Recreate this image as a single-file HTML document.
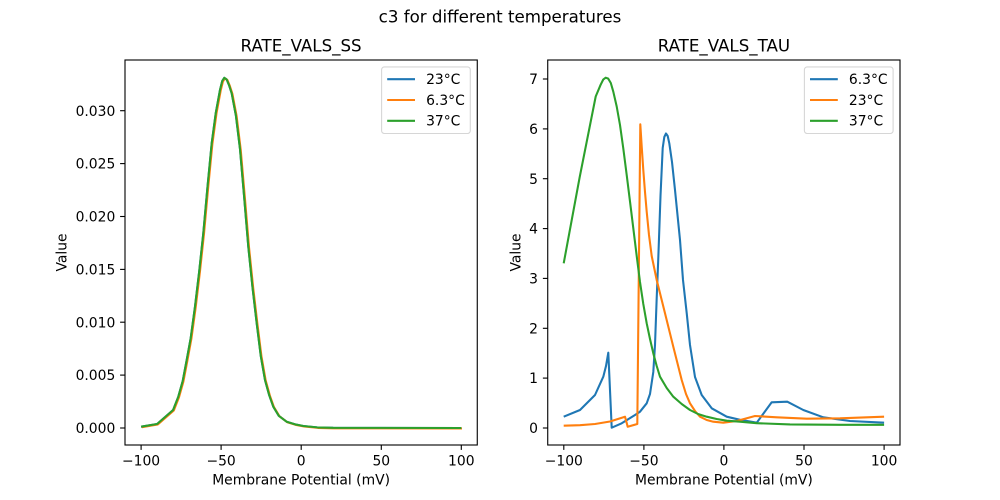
<!DOCTYPE html>
<html>
<head>
<meta charset="utf-8">
<style>
  html, body { margin: 0; padding: 0; background: #ffffff; }
  svg { display: block; }
  text { font-family: "DejaVu Sans", "Liberation Sans", sans-serif; fill: #000; }
</style>
</head>
<body>
<svg width="1000" height="500" viewBox="0 0 1000 500" xmlns="http://www.w3.org/2000/svg">
  <rect x="0" y="0" width="1000" height="500" fill="#ffffff"/>

  <!-- Suptitle -->
  <text x="500" y="22.7" font-size="16.67" text-anchor="middle">c3 for different temperatures</text>

  <!-- ================= LEFT AXES ================= -->
  <text x="301.1" y="51.7" font-size="16.67" text-anchor="middle">RATE_VALS_SS</text>

  <!-- series -->
  <g fill="none" stroke-width="2.08" stroke-linejoin="round" stroke-linecap="butt">
    <polyline stroke="#1f77b4" points="141.1,426.7 157.1,424.0 173.1,410.0 178.3,396.7 182.7,381.1 186.7,360.0 190.7,338.2 195.0,306.7 199.2,271.5 203.3,233.3 207.5,186.8 211.7,143.3 215.8,112.8 220.0,90.0 222.2,81.1 224.3,77.8 226.7,79.5 229.1,85.3 231.7,93.3 235.9,115.5 240.0,149.0 244.2,197.5 248.3,246.7 252.5,287.3 256.7,323.3 260.8,356.1 265.0,380.0 269.2,395.2 273.3,406.7 278.8,415.8 286.6,421.7 294.8,424.3 303.3,426.0 317.2,427.4 333.2,427.8 461.3,428.0"/>
    <polyline stroke="#ff7f0e" transform="translate(0.7,0.5)" points="141.1,426.7 157.1,424.0 173.1,410.0 178.3,396.7 182.7,381.1 186.7,360.0 190.7,338.2 195.0,306.7 199.2,271.5 203.3,233.3 207.5,186.8 211.7,143.3 215.8,112.8 220.0,90.0 222.2,81.1 224.3,77.8 226.7,79.5 229.1,85.3 231.7,93.3 235.9,115.5 240.0,149.0 244.2,197.5 248.3,246.7 252.5,287.3 256.7,323.3 260.8,356.1 265.0,380.0 269.2,395.2 273.3,406.7 278.8,415.8 286.6,421.7 294.8,424.3 303.3,426.0 317.2,427.4 333.2,427.8 461.3,428.0"/>
    <polyline stroke="#2ca02c" points="141.1,426.7 157.1,424.0 173.1,410.0 178.3,396.7 182.7,381.1 186.7,360.0 190.7,338.2 195.0,306.7 199.2,271.5 203.3,233.3 207.5,186.8 211.7,143.3 215.8,112.8 220.0,90.0 222.2,81.1 224.3,77.8 226.7,79.5 229.1,85.3 231.7,93.3 235.9,115.5 240.0,149.0 244.2,197.5 248.3,246.7 252.5,287.3 256.7,323.3 260.8,356.1 265.0,380.0 269.2,395.2 273.3,406.7 278.8,415.8 286.6,421.7 294.8,424.3 303.3,426.0 317.2,427.4 333.2,427.8 461.3,428.0"/>
  </g>

  <!-- spines -->
  <rect x="125" y="60" width="352.27" height="385" fill="none" stroke="#000" stroke-width="1.11"/>

  <!-- y ticks -->
  <g stroke="#000" stroke-width="1.11">
    <line x1="125" y1="428" x2="120.1" y2="428"/>
    <line x1="125" y1="375.1" x2="120.1" y2="375.1"/>
    <line x1="125" y1="322.2" x2="120.1" y2="322.2"/>
    <line x1="125" y1="269.4" x2="120.1" y2="269.4"/>
    <line x1="125" y1="216.5" x2="120.1" y2="216.5"/>
    <line x1="125" y1="163.6" x2="120.1" y2="163.6"/>
    <line x1="125" y1="110.7" x2="120.1" y2="110.7"/>
  </g>
  <g font-size="13.89" text-anchor="end">
    <text x="115.3" y="433.1">0.000</text>
    <text x="115.3" y="380.2">0.005</text>
    <text x="115.3" y="327.3">0.010</text>
    <text x="115.3" y="274.5">0.015</text>
    <text x="115.3" y="221.6">0.020</text>
    <text x="115.3" y="168.7">0.025</text>
    <text x="115.3" y="115.8">0.030</text>
  </g>

  <!-- x ticks -->
  <g stroke="#000" stroke-width="1.11">
    <line x1="141.1" y1="445" x2="141.1" y2="449.9"/>
    <line x1="221.1" y1="445" x2="221.1" y2="449.9"/>
    <line x1="301.2" y1="445" x2="301.2" y2="449.9"/>
    <line x1="381.3" y1="445" x2="381.3" y2="449.9"/>
    <line x1="461.3" y1="445" x2="461.3" y2="449.9"/>
  </g>
  <g font-size="13.89" text-anchor="middle">
    <text x="141.1" y="465.3">−100</text>
    <text x="221.1" y="465.3">−50</text>
    <text x="301.2" y="465.3">0</text>
    <text x="381.3" y="465.3">50</text>
    <text x="461.3" y="465.3">100</text>
  </g>
  <text x="301.1" y="484.6" font-size="13.89" text-anchor="middle">Membrane Potential (mV)</text>
  <text transform="translate(66.7,252.5) rotate(-90)" font-size="13.89" text-anchor="middle">Value</text>

  <!-- legend left -->
  <rect x="381.6" y="66.9" width="88.7" height="66.6" rx="2.8" ry="2.8" fill="#ffffff" fill-opacity="0.8" stroke="#d6d6d6" stroke-width="1.1"/>
  <g stroke-width="2.08">
    <line x1="387.2" y1="79.2" x2="415.0" y2="79.2" stroke="#1f77b4"/>
    <line x1="387.2" y1="100.0" x2="415.0" y2="100.0" stroke="#ff7f0e"/>
    <line x1="387.2" y1="120.8" x2="415.0" y2="120.8" stroke="#2ca02c"/>
  </g>
  <g font-size="13.89">
    <text x="426.1" y="84.1">23°C</text>
    <text x="426.1" y="104.9">6.3°C</text>
    <text x="426.1" y="125.7">37°C</text>
  </g>

  <!-- ================= RIGHT AXES ================= -->
  <text x="723.9" y="51.7" font-size="16.67" text-anchor="middle">RATE_VALS_TAU</text>

  <g fill="none" stroke-width="2.08" stroke-linejoin="round" stroke-linecap="butt">
    <polyline stroke="#1f77b4" points="563.7,416.7 580,410 595,395 603.3,376.7 606,366 608.3,352.7 611.7,427.7 621.7,423.3 635,415 640,411.7 646.7,403.3 650,394 653.3,372 655,345 656.7,298 658.3,258 660.5,196 662.7,148 664.3,137 666,133.5 667.7,136 669.3,143.3 672,162 675,190 680,240 683,280 686.7,313 690,345 695,377 701.7,395 711.7,408.3 726.7,416.7 740,419.8 756.7,422.7 771.7,402.3 787.3,401.7 803.3,410 823.3,417.3 850,421 884.1,422.7"/>
    <polyline stroke="#ff7f0e" points="563.7,425.7 580,425.2 595,424 610,421.5 625,416.7 627.7,426.7 637.3,424 640.3,124.3 641.8,148 643.3,170 645,192 646.7,211.7 649,235 651.7,256 656.7,280 665,313.3 673.3,346.7 681.7,380 686,394 690,403.3 695,411 700,416.7 706.7,420 713.3,421.7 723.3,422.7 736.7,421 755,416 776.7,417.3 806.7,418.7 840,418.3 884.1,416.7"/>
    <polyline stroke="#2ca02c" points="563.7,263.3 579.7,177.1 595.7,96.5 600.6,84.8 603.2,79.6 605.7,77.7 608.2,78.6 610.8,83.0 613.3,91.7 616.7,106.5 620,125 623.3,148.5 626.7,175 630,201.5 633.3,228.3 636.7,256 640,282 643.3,304 646.7,323.3 650,339 653.3,353.3 656.7,366 660,376.7 666.7,388 673.3,396.7 681.7,404 690,410 698,414 706.7,416.7 716.7,419 726.7,420.7 740,421.7 756.7,423.2 790,424.4 840,424.8 884.1,424.8"/>
  </g>

  <rect x="547.73" y="60" width="352.27" height="385" fill="none" stroke="#000" stroke-width="1.11"/>

  <g stroke="#000" stroke-width="1.11">
    <line x1="547.73" y1="428" x2="542.87" y2="428"/>
    <line x1="547.73" y1="378.1" x2="542.87" y2="378.1"/>
    <line x1="547.73" y1="328.3" x2="542.87" y2="328.3"/>
    <line x1="547.73" y1="278.4" x2="542.87" y2="278.4"/>
    <line x1="547.73" y1="228.6" x2="542.87" y2="228.6"/>
    <line x1="547.73" y1="178.7" x2="542.87" y2="178.7"/>
    <line x1="547.73" y1="128.9" x2="542.87" y2="128.9"/>
    <line x1="547.73" y1="79.0" x2="542.87" y2="79.0"/>
  </g>
  <g font-size="13.89" text-anchor="end">
    <text x="538.0" y="433.1">0</text>
    <text x="538.0" y="383.2">1</text>
    <text x="538.0" y="333.4">2</text>
    <text x="538.0" y="283.5">3</text>
    <text x="538.0" y="233.7">4</text>
    <text x="538.0" y="183.8">5</text>
    <text x="538.0" y="134.0">6</text>
    <text x="538.0" y="84.1">7</text>
  </g>

  <g stroke="#000" stroke-width="1.11">
    <line x1="563.8" y1="445" x2="563.8" y2="449.9"/>
    <line x1="643.9" y1="445" x2="643.9" y2="449.9"/>
    <line x1="723.9" y1="445" x2="723.9" y2="449.9"/>
    <line x1="804.0" y1="445" x2="804.0" y2="449.9"/>
    <line x1="884.1" y1="445" x2="884.1" y2="449.9"/>
  </g>
  <g font-size="13.89" text-anchor="middle">
    <text x="563.8" y="465.3">−100</text>
    <text x="643.9" y="465.3">−50</text>
    <text x="723.9" y="465.3">0</text>
    <text x="804.0" y="465.3">50</text>
    <text x="884.1" y="465.3">100</text>
  </g>
  <text x="723.9" y="484.6" font-size="13.89" text-anchor="middle">Membrane Potential (mV)</text>
  <text transform="translate(520.3,252.5) rotate(-90)" font-size="13.89" text-anchor="middle">Value</text>

  <!-- legend right -->
  <rect x="804.4" y="66.9" width="88.7" height="66.6" rx="2.8" ry="2.8" fill="#ffffff" fill-opacity="0.8" stroke="#d6d6d6" stroke-width="1.1"/>
  <g stroke-width="2.08">
    <line x1="810.0" y1="79.2" x2="837.8" y2="79.2" stroke="#1f77b4"/>
    <line x1="810.0" y1="100.0" x2="837.8" y2="100.0" stroke="#ff7f0e"/>
    <line x1="810.0" y1="120.8" x2="837.8" y2="120.8" stroke="#2ca02c"/>
  </g>
  <g font-size="13.89">
    <text x="848.9" y="84.1">6.3°C</text>
    <text x="848.9" y="104.9">23°C</text>
    <text x="848.9" y="125.7">37°C</text>
  </g>
</svg>
</body>
</html>
